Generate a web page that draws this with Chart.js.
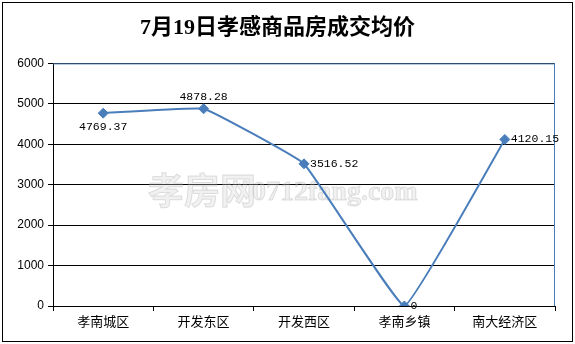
<!DOCTYPE html>
<html><head><meta charset="utf-8">
<script src="https://cdn.jsdelivr.net/npm/chart.js@4.4.0/dist/chart.umd.min.js"></script>
<style>html,body{margin:0;padding:0;background:#fff}#wrap{width:575px;height:344px;position:relative}</style>
</head><body><div id="wrap"><canvas id="c" width="575" height="344"></canvas></div>
<script>
const categories = ['孝南城区','开发东区','开发西区','孝南乡镇','南大经济区'];
const prices = [4769.37, 4878.28, 3516.52, 0, 4120.15];
const valueLabels = ['4769.37','4878.28','3516.52','0','4120.15'];
const titleText = '7月19日孝感商品房成交均价';
const lineColor = '#4a7ebb';

const decor = {
  id: 'decor',
  beforeDatasetsDraw(chart) {
    const ctx = chart.ctx, a = chart.chartArea;
    ctx.save();
    // watermark
    ctx.globalAlpha = 0.3;
    ctx.fillStyle = '#d0d0d0';
    ctx.strokeStyle = '#a0a0a0';
    ctx.lineWidth = 1;
    ctx.textBaseline = 'middle';
    ctx.textAlign = 'left';
    ctx.font = 'bold 36px "Noto Sans CJK SC"';
    ctx.fillText('孝房网', 148, 190);
    ctx.strokeText('孝房网', 148, 190);
    ctx.font = 'bold 28px "Liberation Serif"';
    ctx.fillText('0712fang.com', 252, 193);
    ctx.strokeText('0712fang.com', 252, 193);
    ctx.restore();
    ctx.save();
    // blue top and right border of plot
    ctx.strokeStyle = lineColor;
    ctx.lineWidth = 1;
    ctx.beginPath();
    ctx.moveTo(a.left, a.top + 0.5); ctx.lineTo(a.right, a.top + 0.5);
    ctx.moveTo(a.right - 0.5, a.top); ctx.lineTo(a.right - 0.5, a.bottom);
    ctx.stroke();
    ctx.restore();
  },
  afterDatasetsDraw(chart) {
    const ctx = chart.ctx;
    const meta = chart.getDatasetMeta(0);
    ctx.save();
    ctx.font = '11.5px "Liberation Mono"';
    ctx.fillStyle = '#000';
    ctx.textBaseline = 'middle';
    meta.data.forEach((pt, i) => {
      const t = valueLabels[i];
      if (i === 0) { ctx.textAlign = 'center'; ctx.fillText(t, pt.x, pt.y + 14); }
      else if (i === 1) { ctx.textAlign = 'center'; ctx.fillText(t, pt.x, pt.y - 12); }
      else { ctx.textAlign = 'left'; ctx.fillText(t, pt.x + 6, pt.y); }
    });
    ctx.restore();
  },
  afterDraw(chart) {
    const ctx = chart.ctx;
    ctx.save();
    ctx.strokeStyle = '#000';
    ctx.lineWidth = 1;
    ctx.strokeRect(2.5, 2.5, 570, 339);
    ctx.restore();
  }
};

new Chart(document.getElementById('c'), {
  type: 'line',
  data: {
    labels: categories,
    datasets: [{
      data: prices,
      borderColor: lineColor,
      backgroundColor: lineColor,
      borderWidth: 2,
      tension: 0.08,
      pointStyle: 'rectRot',
      pointRadius: 5,
      pointBorderWidth: 1,
      fill: false
    }]
  },
  options: {
    responsive: false,
    animation: false,
    layout: { padding: { left: 0, right: 20, top: 0, bottom: 0 } },
    plugins: {
      legend: { display: false },
      tooltip: { enabled: false },
      title: {
        display: true,
        text: titleText,
        color: '#000',
        font: { family: '"Liberation Serif", "Noto Sans CJK SC"', size: 22, weight: 'bold', lineHeight: 1.2 },
        padding: { top: 15, bottom: 22 }
      }
    },
    scales: {
      x: {
        offset: true,
        grid: { offset: true, drawOnChartArea: false, color: '#000', tickLength: 5 },
        border: { color: '#000' },
        ticks: { color: '#000', font: { family: '"Noto Sans CJK SC"', size: 13 }, padding: 2, maxRotation: 0 },
        afterFit(s) { s.height = 38; }
      },
      y: {
        min: 0, max: 6000,
        ticks: { stepSize: 1000, color: '#000', font: { family: '"Liberation Sans"', size: 12 }, padding: 4,
                 callback: (v) => String(v) },
        grid: { color: '#000', tickLength: 5 },
        border: { color: '#000' },
        afterFit(s) { s.width = 53; }
      }
    }
  },
  plugins: [decor]
});
</script></body></html>
